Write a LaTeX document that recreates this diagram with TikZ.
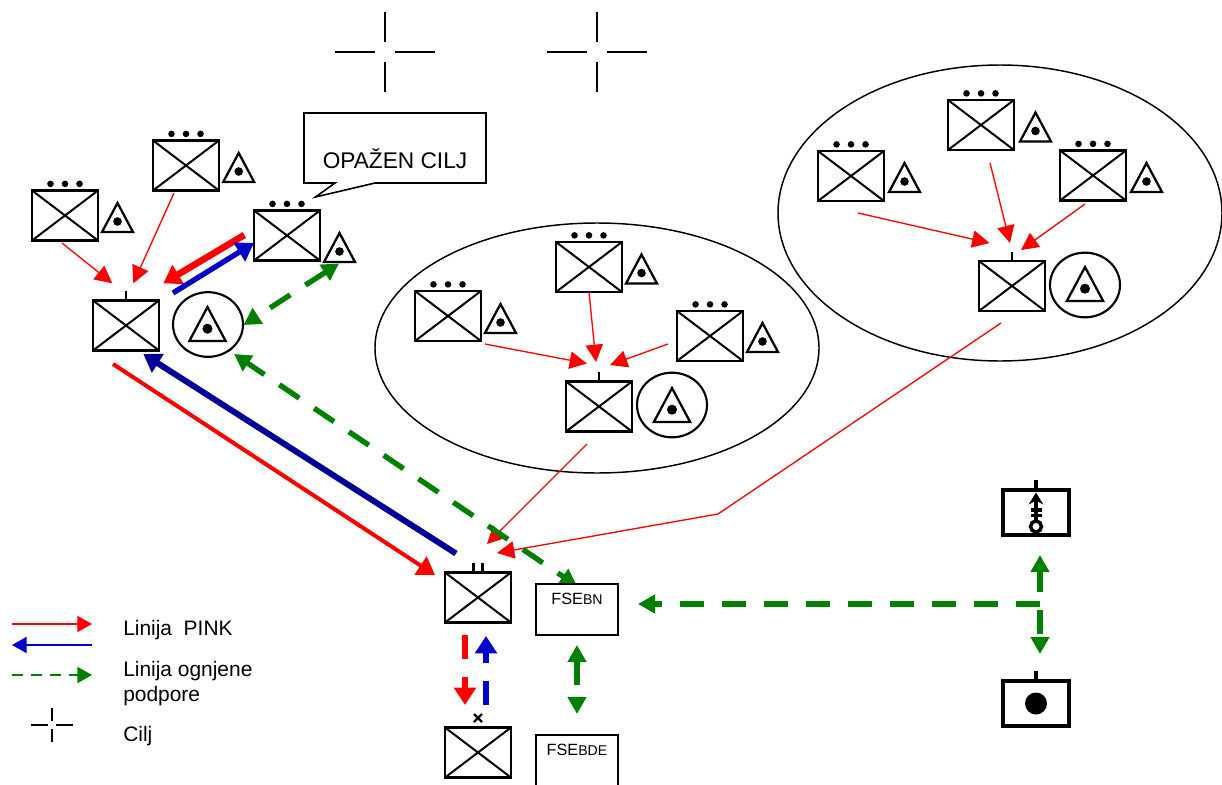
\documentclass[tikz,border=0pt]{standalone}
\usepackage{fontspec}
\setmainfont{Liberation Sans}
\usetikzlibrary{arrows.meta, shapes.geometric}
\definecolor{pinkred}{HTML}{FF0000}
\definecolor{pinkblue}{HTML}{0000CC}
\definecolor{pinknavy}{HTML}{000099}
\definecolor{firegreen}{HTML}{008000}
\tikzstyle{unit} = [rectangle, draw, line width=1.7pt, minimum width=49.5pt, minimum height=37.5pt, inner sep=0pt, path picture={\draw[line width=1.5pt] (path picture bounding box.north west) -- (path picture bounding box.south east) (path picture bounding box.south west) -- (path picture bounding box.north east);}]
\tikzstyle{support} = [rectangle, draw, fill=white, line width=1.3pt, minimum width=61.5pt, inner sep=0pt, text height=15pt, text depth=23pt, font=\fontsize{12.2}{14}\selectfont]
\tikzstyle{battery} = [rectangle, draw, line width=2.6pt, minimum width=49.5pt, minimum height=33.75pt, inner sep=0pt]
\tikzstyle{ring} = [ellipse, draw, line width=1.6pt, minimum width=52.5pt, minimum height=48.5pt, inner sep=0pt]
\tikzstyle{area} = [ellipse, draw, line width=1.1pt, inner sep=0pt]
\tikzstyle{legendtext} = [anchor=west, align=left, inner sep=0pt, font=\fontsize{15.7}{19}\selectfont]
\tikzstyle{tick} = [line width=1.7pt]
\tikzstyle{targetline} = [line width=1pt]
\tikzstyle{dashes} = [dash pattern=on 18pt off 13.5pt]
\tikzstyle{thinlink} = [-{Triangle[length=13pt,width=13pt]}, pinkred, line width=1pt]
\tikzstyle{redlink} = [-{Triangle[length=13pt,width=16pt]}, pinkred, line width=4pt]
\tikzstyle{bluelink} = [-{Triangle[length=13pt,width=16pt]}, pinkblue, line width=4pt]
\tikzstyle{navylink} = [-{Triangle[length=13pt,width=16pt]}, pinknavy, line width=4.5pt]
\tikzstyle{firelink} = [{Triangle[length=12.75pt,width=13.5pt]}-{Triangle[length=12.75pt,width=13.5pt]}, firegreen, line width=4pt, dashes]
\tikzstyle{firehalf} = [-{Triangle[length=12.75pt,width=13.5pt]}, firegreen, line width=4pt, dashes]
\tikzset{
  dots/.pic={\foreach \dx in {-14.5,0,14.5} \fill (\dx,-5.5) circle (3.3);},
  observer/.pic={\draw[line width=1.7pt] (-15.5,14.5) -- (0,-14.5) -- (15.5,14.5) -- cycle; \fill (0,4) circle (4.3);},
  target/.pic={\draw[targetline] (-50,0) -- (-10,0) (10,0) -- (50,0) (0,-40) -- (0,-10) (0,10) -- (0,40);}
}
\begin{document}
\begin{tikzpicture}[x=0.75pt, y=-0.75pt]
\useasboundingbox (0,0) rectangle (1222,785);

% targets
\pic at (385,52) {target};
\pic at (597,52) {target};

% areas
\node[area, minimum width=333pt, minimum height=187.5pt] (areaM) at (597,348) {};
\node[area, minimum width=333pt, minimum height=222pt] (areaR) at (1000,213) {};

% left group
\node[unit] (platA) at (65,215.5) {};
\pic at (platA.north) {dots};
\pic at (117.5,217.5) {observer};
\node[unit] (platB) at (186,165.5) {};
\pic at (platB.north) {dots};
\pic at (238.7,167.5) {observer};
\node[unit] (platC) at (287,235.5) {};
\pic at (platC.north) {dots};
\pic at (339.5,247.5) {observer};
\node[unit] (compL) at (126,325.5) {};
\draw[tick] (compL.north) -- ++(0,-8);
\node[ring] (ringL) at (208,324.5) {};
\pic[scale=1.17] at (207.5,324) {observer};

% message
\draw[line width=1.2pt] (304,113) -- (486,113) -- (486,183) -- (375,183) -- (315.5,197) -- (335,183) -- (304,183) -- cycle;
\node[inner sep=0pt, font=\fontsize{17}{20}\selectfont] (msg) at (395,158.5) {OPAŽEN CILJ};

% middle group
\node[unit] (platD) at (448,316) {};
\pic at (platD.north) {dots};
\pic at (500.5,318.5) {observer};
\node[unit] (platE) at (589,267) {};
\pic at (platE.north) {dots};
\pic at (641.5,269) {observer};
\node[unit] (platF) at (710,336) {};
\pic at (platF.north) {dots};
\pic at (762.5,337.5) {observer};
\node[unit] (compM) at (599,406.5) {};
\draw[tick] (compM.north) -- ++(0,-8);
\node[ring] (ringM) at (672,405) {};
\pic[scale=1.17] at (672,405) {observer};

% right group
\node[unit] (platG) at (851,176) {};
\pic at (platG.north) {dots};
\pic at (904.5,177.5) {observer};
\node[unit] (platH) at (981,125) {};
\pic at (platH.north) {dots};
\pic at (1035.5,127) {observer};
\node[unit] (platI) at (1093,175.5) {};
\pic at (platI.north) {dots};
\pic at (1146.5,177.5) {observer};
\node[unit] (compR) at (1012,286) {};
\draw[tick] (compR.north) -- ++(0,-8);
\node[ring] (ringR) at (1085,285) {};
\pic[scale=1.17] at (1085,284) {observer};

% battalion and brigade
\node[unit] (batt) at (478,597.5) {};
\draw[tick] ([xshift=-3.4pt]batt.north) -- ++(0,-8);
\draw[tick] ([xshift=3.4pt]batt.north) -- ++(0,-8);
\node[unit] (brig) at (478,752.5) {};
\draw[line width=1.8pt] (474,714) -- (482,722) (482,714) -- (474,722);

% batteries
\node[battery] (mortar) at (1036,512.5) {};
\draw[line width=2.6pt] (mortar.north) -- ++(0,-8);
\draw[line width=2.8pt, -{Stealth[length=9pt,width=11pt]}] (1036,521) -- (1036,492.5);
\draw[line width=2.4pt] (1030.5,510) -- (1041.5,510) (1030.5,515.5) -- (1041.5,515.5);
\draw[line width=2.6pt] (1036,526.5) circle (5.5);
\node[battery] (gun) at (1036,703.5) {};
\draw[line width=2.6pt] (gun.north) -- ++(0,-8);
\fill (1036,703.5) circle (11);

% link ends
\coordinate (a1) at (62,243);
\coordinate (a2) at (112.3,283.3);
\coordinate (b1) at (174,193);
\coordinate (b2) at (133.3,283.3);
\coordinate (c1) at (244.3,235);
\coordinate (c2) at (163.3,283.3);
\coordinate (c3) at (173,293);
\coordinate (c4) at (254,243);
\coordinate (c5) at (339,263.5);
\coordinate (c6) at (243.5,325);
\coordinate (n1) at (456,553.5);
\coordinate (n2) at (143.3,354);
\coordinate (n3) at (113,364);
\coordinate (n4) at (435,575);
\coordinate (n5) at (577,586);
\coordinate (n6) at (234,354);
\coordinate (d1) at (485,344);
\coordinate (d2) at (587,363.5);
\coordinate (e1) at (589,292);
\coordinate (e2) at (596,362);
\coordinate (f1) at (668,344);
\coordinate (f2) at (610,365);
\coordinate (m1) at (587,444);
\coordinate (m2) at (487,544);
\coordinate (g1) at (858,213);
\coordinate (g2) at (989.5,243);
\coordinate (h1) at (990,163);
\coordinate (h2) at (1010,243);
\coordinate (i1) at (1085,204);
\coordinate (i2) at (1021,250);
\coordinate (r1) at (1001,323);
\coordinate (r2) at (718,514);
\coordinate (r3) at (497,553);
\coordinate (v1) at (465,635);
\coordinate (v2) at (465,705);
\coordinate (v3) at (486,705);
\coordinate (v4) at (486,636);
\coordinate (s1) at (577,645);
\coordinate (s2) at (577,714);
\coordinate (w1) at (1040,555);
\coordinate (w2) at (1040,654);
\coordinate (w3) at (1040,604);
\coordinate (w4) at (638,604);

% links
\draw[thinlink] (a1) -- (a2);
\draw[thinlink] (b1) -- (b2);
\draw[redlink, line width=5pt] (c1) -- (c2);
\draw[bluelink] (c3) -- (c4);
\draw[firelink] (c5) -- (c6);
\draw[navylink] (n1) -- (n2);
\draw[redlink, line width=3pt] (n3) -- (n4);
\draw[thinlink] (d1) -- (d2);
\draw[thinlink] (e1) -- (e2);
\draw[thinlink] (f1) -- (f2);
\draw[thinlink] (m1) -- (m2);
\draw[thinlink] (g1) -- (g2);
\draw[thinlink] (h1) -- (h2);
\draw[thinlink] (i1) -- (i2);
\draw[thinlink] (r1) -- (r2) -- (r3);
\draw[firelink, dash phase=2.4pt] (n6) -- (n5);
\draw[redlink, dashes] (v1) -- (v2);
\draw[bluelink, dashes] (v3) -- (v4);
\draw[firelink] (s1) -- (s2);
\draw[firelink, dash phase=2.25pt] (w1) -- (w2);
\draw[firehalf] (w3) -- (w4);

% support boxes
\node[support] (fsebn) at (577,609.5) {FSE{\fontsize{10.6}{12}\selectfont BN}};
\node[support] (fsebde) at (577,760.5) {FSE{\fontsize{10.6}{12}\selectfont BDE}};

% legend
\coordinate (l1) at (12,624);
\coordinate (l2) at (92,624);
\coordinate (l3) at (92,645);
\coordinate (l4) at (12,645);
\coordinate (l5) at (12,675);
\coordinate (l6) at (92,675);
\draw[-{Triangle[length=11pt,width=12pt]}, pinkred, line width=1.5pt] (l1) -- (l2);
\draw[-{Triangle[length=11pt,width=12pt]}, pinkblue, line width=1.5pt] (l3) -- (l4);
\draw[-{Triangle[length=11pt,width=12pt]}, firegreen, line width=1.5pt, dash pattern=on 7.9pt off 6.4pt] (l5) -- (l6);
\pic[scale=0.42] at (52,725) {target};
\node[legendtext] (legA) at (123,630) {Linija\ \ PINK};
\node[legendtext] (legB) at (123,683.5) {Linija ognjene\\podpore};
\node[legendtext] (legC) at (123,736.5) {Cilj};

\end{tikzpicture}
\end{document}
